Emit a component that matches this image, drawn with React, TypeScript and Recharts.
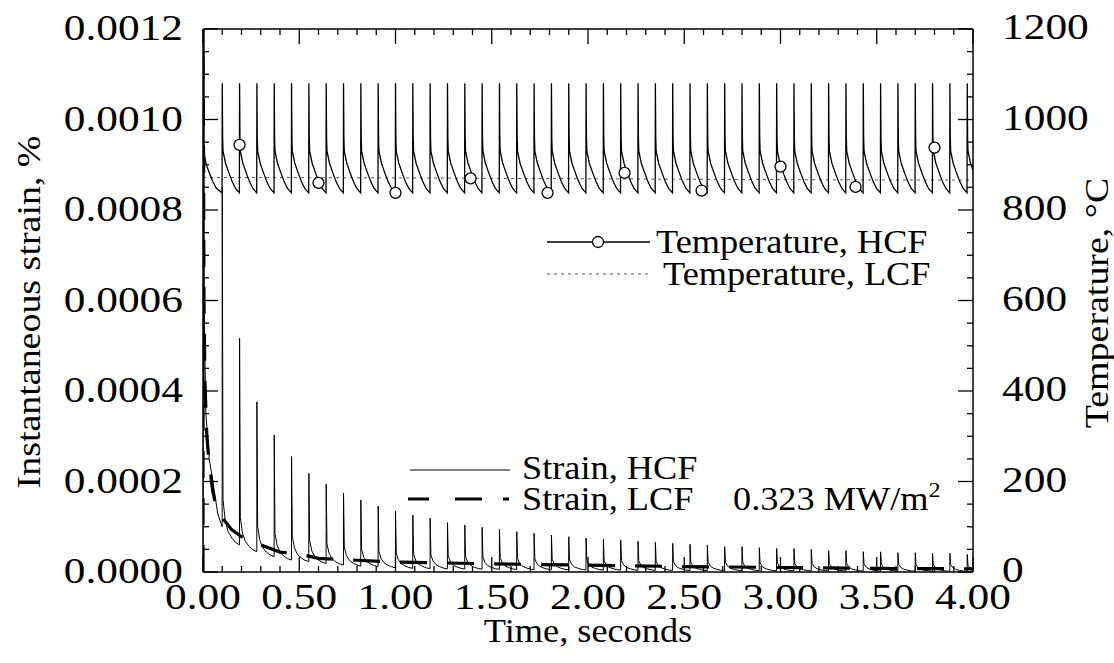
import React from 'react';
import { ComposedChart, Line, XAxis, YAxis } from 'recharts';

const W = 1114;
const H = 663;
const FONT = '"Liberation Serif", "Times New Roman", serif';
const FS = 33;
const SX = 1.1;
const TICK_FS = 35;
const TICK_SX = 1.24;

// ---------- axis ticks ----------
const xTicks = [0, 0.1, 0.2, 0.3, 0.4, 0.5, 0.6, 0.7, 0.8, 0.9, 1.0, 1.1, 1.2, 1.3, 1.4, 1.5, 1.6, 1.7, 1.8, 1.9, 2.0,
  2.1, 2.2, 2.3, 2.4, 2.5, 2.6, 2.7, 2.8, 2.9, 3.0, 3.1, 3.2, 3.3, 3.4, 3.5, 3.6, 3.7, 3.8, 3.9, 4.0];
const xLabelTicks = [0, 0.5, 1.0, 1.5, 2.0, 2.5, 3.0, 3.5, 4.0];
const xTickLabels = ['0.00', '0.50', '1.00', '1.50', '2.00', '2.50', '3.00', '3.50', '4.00'];

const strainTicks = [0, 0.00005, 0.0001, 0.00015, 0.0002, 0.00025, 0.0003, 0.00035, 0.0004, 0.00045, 0.0005, 0.00055,
  0.0006, 0.00065, 0.0007, 0.00075, 0.0008, 0.00085, 0.0009, 0.00095, 0.001, 0.00105, 0.0011, 0.00115, 0.0012];
const strainLabelTicks = [0, 0.0002, 0.0004, 0.0006, 0.0008, 0.001, 0.0012];
const strainTickLabels = ['0.0000', '0.0002', '0.0004', '0.0006', '0.0008', '0.0010', '0.0012'];

const tempTicks = [0, 50, 100, 150, 200, 250, 300, 350, 400, 450, 500, 550, 600, 650, 700, 750, 800, 850, 900, 950,
  1000, 1050, 1100, 1150, 1200];
const tempLabelTicks = [0, 200, 400, 600, 800, 1000, 1200];
const tempTickLabels = ['0', '200', '400', '600', '800', '1000', '1200'];

// ---------- data ----------
const pulseTimes = [0.10, 0.19, 0.28, 0.37, 0.46, 0.55, 0.64, 0.73, 0.82, 0.91,
  1.00, 1.09, 1.18, 1.27, 1.36, 1.45, 1.54, 1.63, 1.72, 1.81,
  1.90, 1.99, 2.08, 2.17, 2.26, 2.35, 2.44, 2.53, 2.62, 2.71,
  2.80, 2.89, 2.98, 3.07, 3.16, 3.25, 3.34, 3.43, 3.52, 3.61,
  3.70, 3.79, 3.88, 3.97];

// temperature, HCF (°C)
const tempStartTimes = [0, 0.003, 0.017, 0.035, 0.052, 0.069, 0.099];
const tempStartValues = [1080, 930, 900, 880, 862, 848, 838];
const tempPeaks = [1080, 1080, 1080, 1080, 1080, 1080, 1080, 1080, 1080, 1080,
  1080, 1080, 1080, 1080, 1080, 1080, 1080, 1080, 1080, 1080,
  1080, 1080, 1080, 1080, 1080, 1080, 1080, 1080, 1080, 1080,
  1080, 1080, 1080, 1080, 1080, 1080, 1080, 1080, 1080, 1080,
  1080, 1080, 1080, 1080];
const tempTroughs = [838, 838, 838, 838, 838, 838, 838, 838, 838, 838,
  838, 838, 838, 838, 838, 838, 838, 838, 838, 838,
  838, 838, 838, 838, 838, 838, 838, 838, 838, 838,
  838, 838, 838, 838, 838, 838, 838, 838, 838, 838,
  838, 838, 838, 838];
const tempShapeOffsets = [0, 0.002, 0.004, 0.017, 0.035, 0.052, 0.069, 0.089];
const tempShapeFractions = [1, 0.5, 0.38, 0.27, 0.18, 0.1, 0.04, 0];

const markerTimes = [0.19, 0.6, 1.0, 1.39, 1.79, 2.19, 2.59, 3.0, 3.39, 3.8];
const markerTemps = [944, 860, 838, 870, 838, 882, 843, 896, 851, 938];

// temperature, LCF (°C)
const tempLcfTimes = [0, 1, 2, 3, 4];
const tempLcfValues = [872, 871, 869, 867, 866];

// strain, HCF (%)
const strainStartTimes = [0, 0.0005, 0.005, 0.015, 0.033, 0.05, 0.076, 0.0995];
const strainStartValues = [0, 0.00125, 0.0006, 0.00035, 0.000248, 0.000204, 0.00013, 0.0001];
const strainPeaks = [0.00085, 0.000517, 0.000376, 0.000303, 0.000255, 0.000218, 0.000194, 0.000174, 0.000159, 0.000146,
  0.000135, 0.000126, 0.000119, 0.000109, 0.000104, 0.0000987, 0.0000943, 0.0000891, 0.0000855, 0.0000818,
  0.000078, 0.0000751, 0.0000722, 0.0000707, 0.0000678, 0.0000656, 0.0000634, 0.0000612, 0.000059, 0.000056,
  0.000056, 0.0000537, 0.000052, 0.000052, 0.00005, 0.000047, 0.000047, 0.0000449, 0.0000445, 0.0000427,
  0.0000427, 0.0000413, 0.0000413, 0.000039];
const strainKnees = [0.00016, 0.00012, 0.0001, 0.000085, 0.000078, 0.00007, 0.000062, 0.000056, 0.00005, 0.000046,
  0.000042, 0.00004, 0.000038, 0.000036, 0.000034, 0.000033, 0.000032, 0.00003, 0.000029, 0.000028,
  0.000027, 0.000026, 0.000025, 0.000025, 0.000024, 0.000023, 0.000023, 0.000022, 0.000022, 0.000021,
  0.000021, 0.00002, 0.00002, 0.000019, 0.000019, 0.000018, 0.000018, 0.000018, 0.000017, 0.000017,
  0.000016, 0.000016, 0.000016, 0.000015];
const strainTroughs = [0.00006, 0.000045, 0.000034, 0.0000265, 0.000023, 0.000019, 0.0000155, 0.000013, 0.000012, 0.0000096,
  0.0000081, 0.0000075, 0.000007, 0.0000066, 0.0000062, 0.0000058, 0.0000055, 0.0000052, 0.000005, 0.0000047,
  0.0000045, 0.0000043, 0.0000041, 0.0000039, 0.0000037, 0.0000035, 0.0000033, 0.0000031, 0.000003, 0.0000029,
  0.0000028, 0.0000026, 0.0000025, 0.0000024, 0.0000022, 0.0000021, 0.000002, 0.0000019, 0.0000018, 0.0000017,
  0.0000016, 0.0000015, 0.0000014, 0.0000012];
const strainTailOffsets = [0.004, 0.015, 0.03, 0.05, 0.07, 0.0895];
const strainTailFractions = [1, 0.55, 0.3, 0.15, 0.05, 0];

// strain, LCF (%)
const strainLcfTimes = [0, 0.0005, 0.005, 0.01, 0.02, 0.03, 0.05, 0.07, 0.1, 0.15, 0.2, 0.3, 0.4, 0.5, 0.6, 0.8,
  1.0, 1.5, 2.0, 2.5, 3.0, 3.5, 4.0];
const strainLcfValues = [0, 0.00125, 0.0006, 0.00042, 0.0003, 0.00025, 0.00018, 0.00014, 0.00012, 0.000093, 0.000078,
  0.00006, 0.000044, 0.00004, 0.00003, 0.000026, 0.000022, 0.000018, 0.000015, 0.000012, 0.00001, 0.000008, 0.000007];

// ---------- tables built from the arrays ----------
type Pt = { t: number; v: number };
const r6 = (n: number) => Math.round(n * 1e6) / 1e6;

const tempHcfData: Pt[] = [];
tempStartTimes.forEach((t, i) => tempHcfData.push({ t, v: tempStartValues[i] }));
pulseTimes.forEach((t0, k) => {
  const P = tempPeaks[k];
  const B = tempTroughs[k];
  tempShapeOffsets.forEach((d, j) => tempHcfData.push({ t: r6(t0 + d), v: B + tempShapeFractions[j] * (P - B) }));
});

const markerData: Pt[] = markerTimes.map((t, i) => ({ t, v: markerTemps[i] }));
const tempLcfData: Pt[] = tempLcfTimes.map((t, i) => ({ t, v: tempLcfValues[i] }));

const strainHcfData: Pt[] = [];
strainStartTimes.forEach((t, i) => strainHcfData.push({ t, v: strainStartValues[i] }));
pulseTimes.forEach((t0, k) => {
  const K = strainKnees[k];
  const T = strainTroughs[k];
  strainHcfData.push({ t: t0, v: strainPeaks[k] });
  strainTailOffsets.forEach((d, j) => strainHcfData.push({ t: r6(t0 + d), v: T + strainTailFractions[j] * (K - T) }));
});

const strainLcfData: Pt[] = strainLcfTimes.map((t, i) => ({ t, v: strainLcfValues[i] }));

// ---------- ticks ----------
const findIdx = (arr: number[], v: number) => arr.findIndex((a) => Math.abs(a - v) < 1e-9);

const STextH = ({ x, y, anchor, children, size = FS, sx = SX }: any) => (
  <text transform={`translate(${x},${y}) scale(${sx},1)`} textAnchor={anchor} fontFamily={FONT} fontSize={size} fill="#000">
    {children}
  </text>
);

const BottomTick = (p: any) => {
  const { x, y, payload } = p;
  const i = findIdx(xLabelTicks, payload.value);
  const major = i >= 0;
  return (
    <g>
      <line x1={x} x2={x} y1={y} y2={y - (major ? 15 : 6)} stroke="#000" strokeWidth={1.3} />
      {major && <STextH x={x} y={y + 37} anchor="middle" size={TICK_FS} sx={TICK_SX}>{xTickLabels[i]}</STextH>}
    </g>
  );
};

const TopTick = (p: any) => {
  const { x, y, payload } = p;
  const major = findIdx(xLabelTicks, payload.value) >= 0;
  return <line x1={x} x2={x} y1={y} y2={y + (major ? 15 : 6)} stroke="#000" strokeWidth={1.3} />;
};

const LeftTick = (p: any) => {
  const { x, y, payload } = p;
  const i = findIdx(strainLabelTicks, payload.value);
  const major = i >= 0;
  return (
    <g>
      <line x1={x} x2={x + (major ? 15 : 6)} y1={y} y2={y} stroke="#000" strokeWidth={1.3} />
      {major && <STextH x={x - 20} y={y + 11} anchor="end" size={TICK_FS} sx={TICK_SX}>{strainTickLabels[i]}</STextH>}
    </g>
  );
};

const RightTick = (p: any) => {
  const { x, y, payload } = p;
  const i = findIdx(tempLabelTicks, payload.value);
  const major = i >= 0;
  return (
    <g>
      <line x1={x} x2={x - (major ? 15 : 6)} y1={y} y2={y} stroke="#000" strokeWidth={1.3} />
      {major && <STextH x={x + 29} y={y + 10} anchor="start" size={TICK_FS} sx={TICK_SX}>{tempTickLabels[i]}</STextH>}
    </g>
  );
};

const PLOT_L = 203;
const PLOT_R = 973;
const PLOT_T = 29;
const PLOT_B = 572;

export default function App() {
  return (
    <div style={{ position: 'absolute', left: 0, top: 0, width: W, height: H, background: '#fff' }}>
      <ComposedChart width={W} height={H} margin={{ top: 0, right: 0, bottom: 0, left: 0 }}>
        <XAxis xAxisId="b" dataKey="t" type="number" domain={[0, 4]} allowDataOverflow ticks={xTicks} interval={0}
          tickSize={0} tickMargin={0} tickLine={false} tick={BottomTick} height={H - PLOT_B}
          axisLine={{ stroke: '#000', strokeWidth: 1.5 }} />
        <XAxis xAxisId="top" orientation="top" dataKey="t" type="number" domain={[0, 4]} allowDataOverflow ticks={xTicks}
          interval={0} tickSize={0} tickMargin={0} tickLine={false} tick={TopTick} height={PLOT_T}
          axisLine={{ stroke: '#000', strokeWidth: 1.5 }} />
        <YAxis yAxisId="s" type="number" domain={[0, 0.0012]} allowDataOverflow ticks={strainTicks} interval={0}
          tickSize={0} tickMargin={0} tickLine={false} tick={LeftTick} width={PLOT_L}
          axisLine={{ stroke: '#000', strokeWidth: 1.5 }} />
        <YAxis yAxisId="T" orientation="right" type="number" domain={[0, 1200]} allowDataOverflow ticks={tempTicks}
          interval={0} tickSize={0} tickMargin={0} tickLine={false} tick={RightTick} width={W - PLOT_R}
          axisLine={{ stroke: '#000', strokeWidth: 1.5 }} />

        <Line xAxisId="b" yAxisId="T" data={tempLcfData} dataKey="v" type="linear" stroke="#555" strokeWidth={1}
          strokeDasharray="3 4" dot={false} isAnimationActive={false} />
        <Line xAxisId="b" yAxisId="T" data={tempHcfData} dataKey="v" type="linear" stroke="#000" strokeWidth={1.3}
          dot={false} isAnimationActive={false} />
        <Line xAxisId="b" yAxisId="T" data={markerData} dataKey="v" type="linear" stroke="none"
          dot={{ r: 5.5, fill: '#fff', stroke: '#000', strokeWidth: 1.3 }} isAnimationActive={false} />
        <Line xAxisId="b" yAxisId="s" data={strainHcfData} dataKey="v" type="linear" stroke="#000" strokeWidth={1}
          dot={false} isAnimationActive={false} />
        <Line xAxisId="b" yAxisId="s" data={strainLcfData} dataKey="v" type="linear" stroke="#000" strokeWidth={3.2}
          strokeDasharray="27 20" dot={false} isAnimationActive={false} />
      </ComposedChart>

      <svg width={W} height={H} style={{ position: 'absolute', left: 0, top: 0, pointerEvents: 'none' }}>
        {/* axis titles */}
        <STextH x={(PLOT_L + PLOT_R) / 2} y={642} anchor="middle">Time, seconds</STextH>
        <text transform={`translate(40,312) rotate(-90) scale(1.15,1)`} textAnchor="middle" fontFamily={FONT}
          fontSize={FS} fill="#000">Instantaneous strain, %</text>
        <text transform={`translate(1108,303) rotate(-90) scale(1.15,1)`} textAnchor="middle" fontFamily={FONT}
          fontSize={FS} fill="#000">Temperature, °C</text>

        {/* legend: temperature */}
        <line x1={547} x2={650} y1={242} y2={242} stroke="#000" strokeWidth={1.3} />
        <circle cx={598} cy={242} r={5.5} fill="#fff" stroke="#000" strokeWidth={1.3} />
        <STextH x={656} y={253} anchor="start">Temperature, HCF</STextH>
        <line x1={547} x2={650} y1={274} y2={274} stroke="#555" strokeWidth={1} strokeDasharray="3 4" />
        <STextH x={663} y={285} anchor="start">Temperature, LCF</STextH>

        {/* legend: strain */}
        <line x1={410} x2={510} y1={470} y2={470} stroke="#000" strokeWidth={1} />
        <STextH x={522} y={479} anchor="start">Strain, HCF</STextH>
        <line x1={408} x2={511} y1={499} y2={499} stroke="#000" strokeWidth={3.2} strokeDasharray="21 26 27 21 6 20" />
        <STextH x={522} y={510} anchor="start">Strain, LCF</STextH>

        <text transform={`translate(733,510) scale(${SX},1)`} fontFamily={FONT} fontSize={FS} fill="#000">
          0.323 MW/m<tspan dy={-13} fontSize={22}>2</tspan>
        </text>
      </svg>
    </div>
  );
}
